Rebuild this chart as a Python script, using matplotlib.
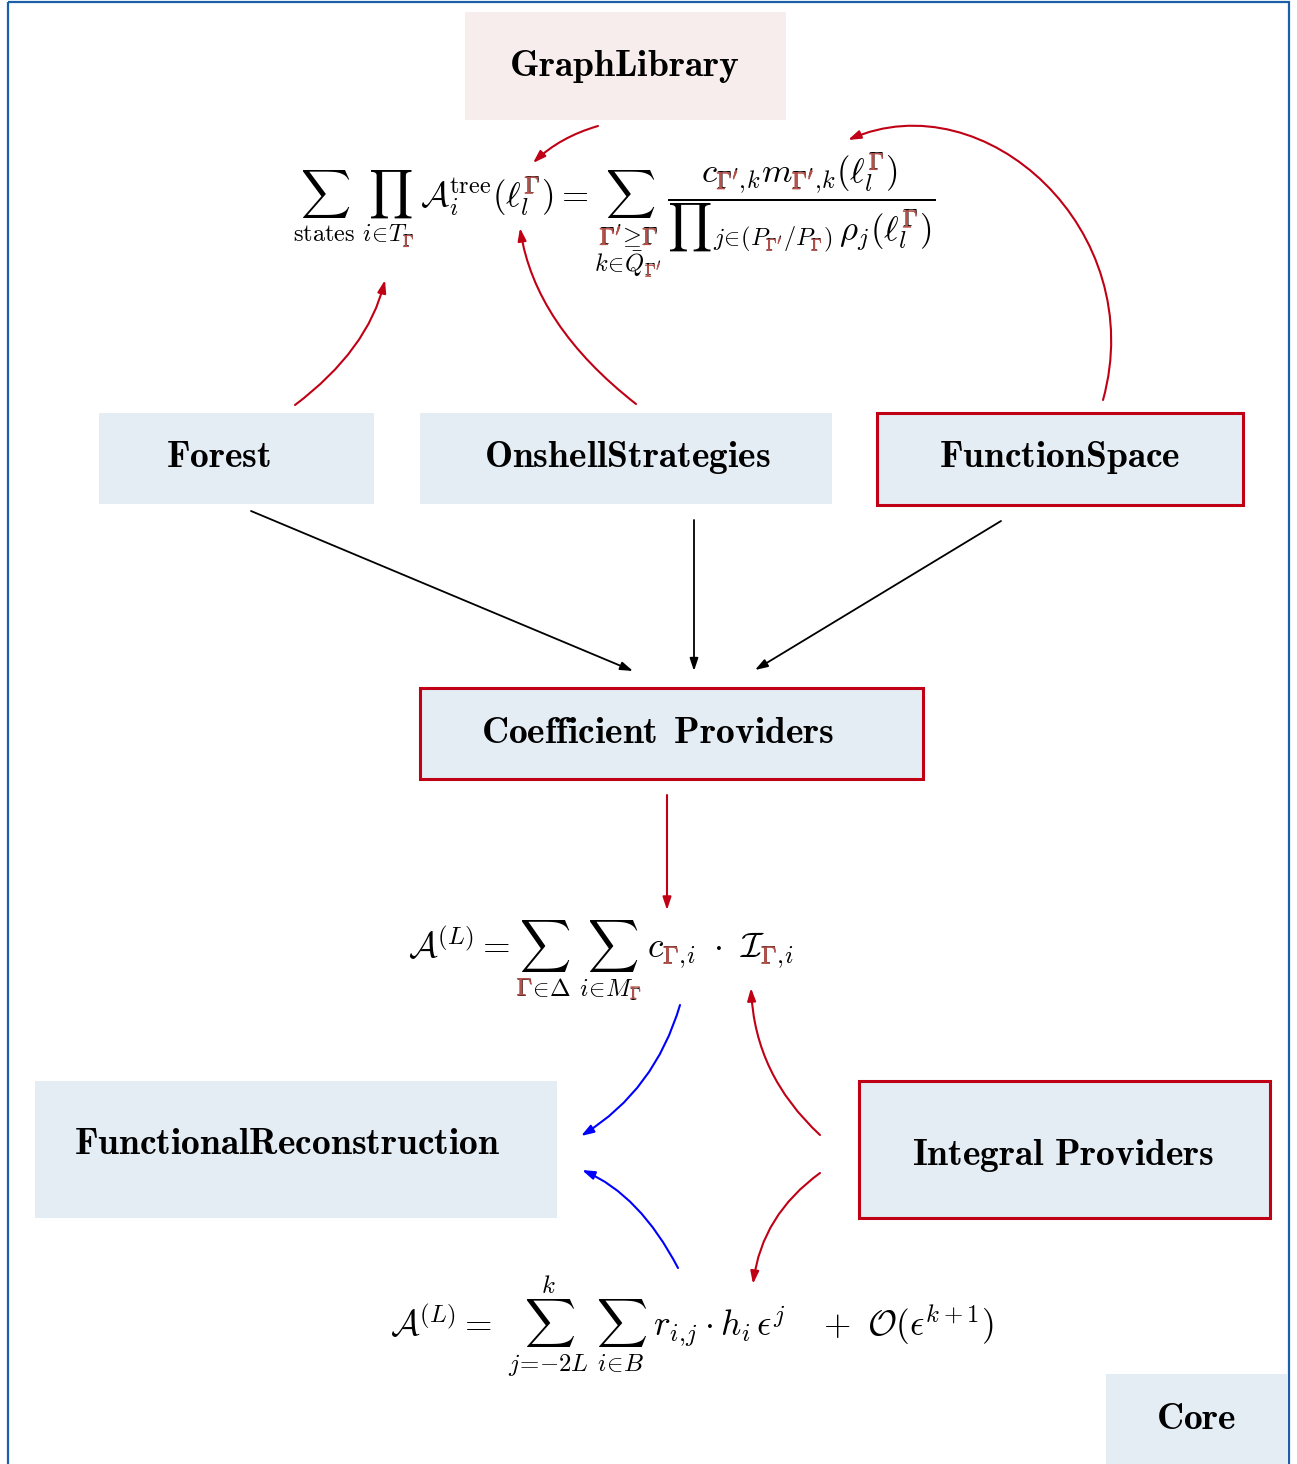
import matplotlib
matplotlib.use('agg')
import matplotlib.pyplot as plt
import matplotlib.patheffects as pe
from matplotlib.patches import Rectangle, FancyArrowPatch
from matplotlib.path import Path
from matplotlib.mathtext import MathTextParser
from matplotlib.font_manager import FontProperties

plt.rcParams['mathtext.fontset'] = 'cm'

RED = '#c00014'
GAMMA_RED = '#b4514b'
BLUE = '#0000ff'
FILL = '#e4ecf4'

# boxes: label, left, top, right, bottom, label centre x, label baseline y, fill, red border
box_labels = ['GraphLibrary', 'Forest', 'OnshellStrategies', 'FunctionSpace',
              r'Coefficient\ \,Providers', 'FunctionalReconstruction',
              r'Integral\ Providers', 'Core']
box_left = [465, 99, 420, 877, 420, 35, 859, 1106]
box_top = [12, 413, 413, 413, 688, 1081, 1081, 1374]
box_right = [786, 374, 832, 1243, 923, 557, 1270, 1288]
box_bottom = [120, 504, 504, 505, 779, 1218, 1218, 1470]
label_x = [624, 219, 627, 1060, 658, 287, 1063, 1196]
label_y = [76, 467, 467, 467, 743, 1154, 1165, 1429]
box_fill = ['#f8eded', FILL, FILL, FILL, FILL, FILL, FILL, FILL]
box_red = [False, False, False, True, True, False, True, False]

# formulas: tex, left x, baseline y, width in px
formulas = [
    r"$\sum_{\mathrm{states}}\;\prod_{i\!\in\!T_\Gamma}\,\mathcal{A}_i^{\mathrm{tree}}(\ell_l^\Gamma)"
    r"=\sum_{\substack{\Gamma'\!\geq\!\Gamma\\ k\!\in\!\bar{Q}_{\Gamma'}}}\,"
    r"\dfrac{c_{\Gamma',\!k}m_{\Gamma',\!k}(\ell_l^\Gamma)}{{\prod}_{j\!\in\!(P_{\Gamma'}/P_\Gamma)}\,\rho_j(\ell_l^\Gamma)}$",
    r"$\mathcal{A}^{(L)}=\sum_{\Gamma\!\in\!\Delta}\;\sum_{i\!\in\!M_\Gamma}\,c_{\Gamma,\!i}\ \cdot\ \mathcal{I}_{\Gamma,\!i}$",
    r"$\mathcal{A}^{(L)}=\ \sum_{j\!=\!{-}2L}^{k}\;\sum_{i\!\in\!B}\ r_{i,\!j}\cdot h_i\,\epsilon^j\quad+\ \mathcal{O}(\epsilon^{k+1})$",
]
formula_x = [293, 408, 390]
formula_y = [207, 958, 1337]
formula_w = [645, 387, 605]

# arrows: colour, path points (2 = straight, 3 = quadratic, 4 = cubic)
arrows = [
    (RED, [(598, 126), (560, 137), (533, 163)]),
    (RED, [(295, 405), (368, 350), (385, 280)]),
    (RED, [(636, 404), (535, 325), (520, 228)]),
    (RED, [(1103, 400), (1150, 230), (985, 80), (848, 140)]),
    ('black', [(251, 511), (633, 671)]),
    ('black', [(694, 520), (694, 671)]),
    ('black', [(1001, 521), (755, 670)]),
    (RED, [(667, 795), (667, 910)]),
    (BLUE, [(680, 1005), (655, 1090), (581, 1136)]),
    (BLUE, [(678, 1268), (640, 1195), (582, 1170)]),
    (RED, [(820, 1135), (755, 1075), (751, 988)]),
    (RED, [(820, 1173), (762, 1215), (753, 1284)]),
]

fig = plt.figure(figsize=(12.97, 14.64), dpi=100)
ax = fig.add_axes([0, 0, 1, 1])
ax.set_xlim(0, 1297)
ax.set_ylim(1464, 0)
ax.axis('off')

# outer frame
ax.add_patch(Rectangle((8, 2), 1281, 1470, fill=False, ec='#1a5fa8', lw=1.6))

for i, name in enumerate(box_labels):
    ax.add_patch(Rectangle((box_left[i], box_top[i]), box_right[i] - box_left[i],
                           box_bottom[i] - box_top[i], fc=box_fill[i],
                           ec=RED if box_red[i] else 'none', lw=2.2))
    ax.text(label_x[i], label_y[i], r'$\mathbf{' + name + '}$', fontsize=27,
            ha='center', va='baseline')

for col, pts in arrows:
    codes = {2: [Path.MOVETO, Path.LINETO],
             3: [Path.MOVETO, Path.CURVE3, Path.CURVE3],
             4: [Path.MOVETO, Path.CURVE4, Path.CURVE4, Path.CURVE4]}[len(pts)]
    ax.add_patch(FancyArrowPatch(path=Path(pts, codes),
                                 arrowstyle='-|>,head_length=0.75,head_width=0.25',
                                 mutation_scale=10, color=col,
                                 lw=1.3 if col == 'black' else 1.5))

# formulas, with the Gamma symbols recoloured
parser = MathTextParser('path')
DPI = 720


def glyph_key(s):
    g = parser.parse(s, DPI, FontProperties(size=10)).glyphs[0]
    return (g[0].postscript_name, g[2])


red_glyphs = {glyph_key(r"$\Gamma$"): r"$\Gamma$", glyph_key(r"$\prime$"): r"$\prime$"}
halo = [pe.withStroke(linewidth=0.3, foreground=GAMMA_RED)]

for s, x, y, w in zip(formulas, formula_x, formula_y, formula_w):
    w10 = parser.parse(s, DPI, FontProperties(size=10)).width / DPI * 72
    fs = 10 * w * 0.72 / w10
    ax.text(x, y, s, fontsize=fs, ha='left', va='baseline')
    for font, size, num, ox, oy in parser.parse(s, DPI, FontProperties(size=fs)).glyphs:
        key = (font.postscript_name, num)
        if key in red_glyphs:
            ax.annotate(red_glyphs[key], xy=(x, y), xytext=(ox / DPI * 72, oy / DPI * 72),
                        textcoords='offset points', fontsize=size, color=GAMMA_RED,
                        ha='left', va='baseline', path_effects=halo)

fig.savefig('out.png', dpi=100)
